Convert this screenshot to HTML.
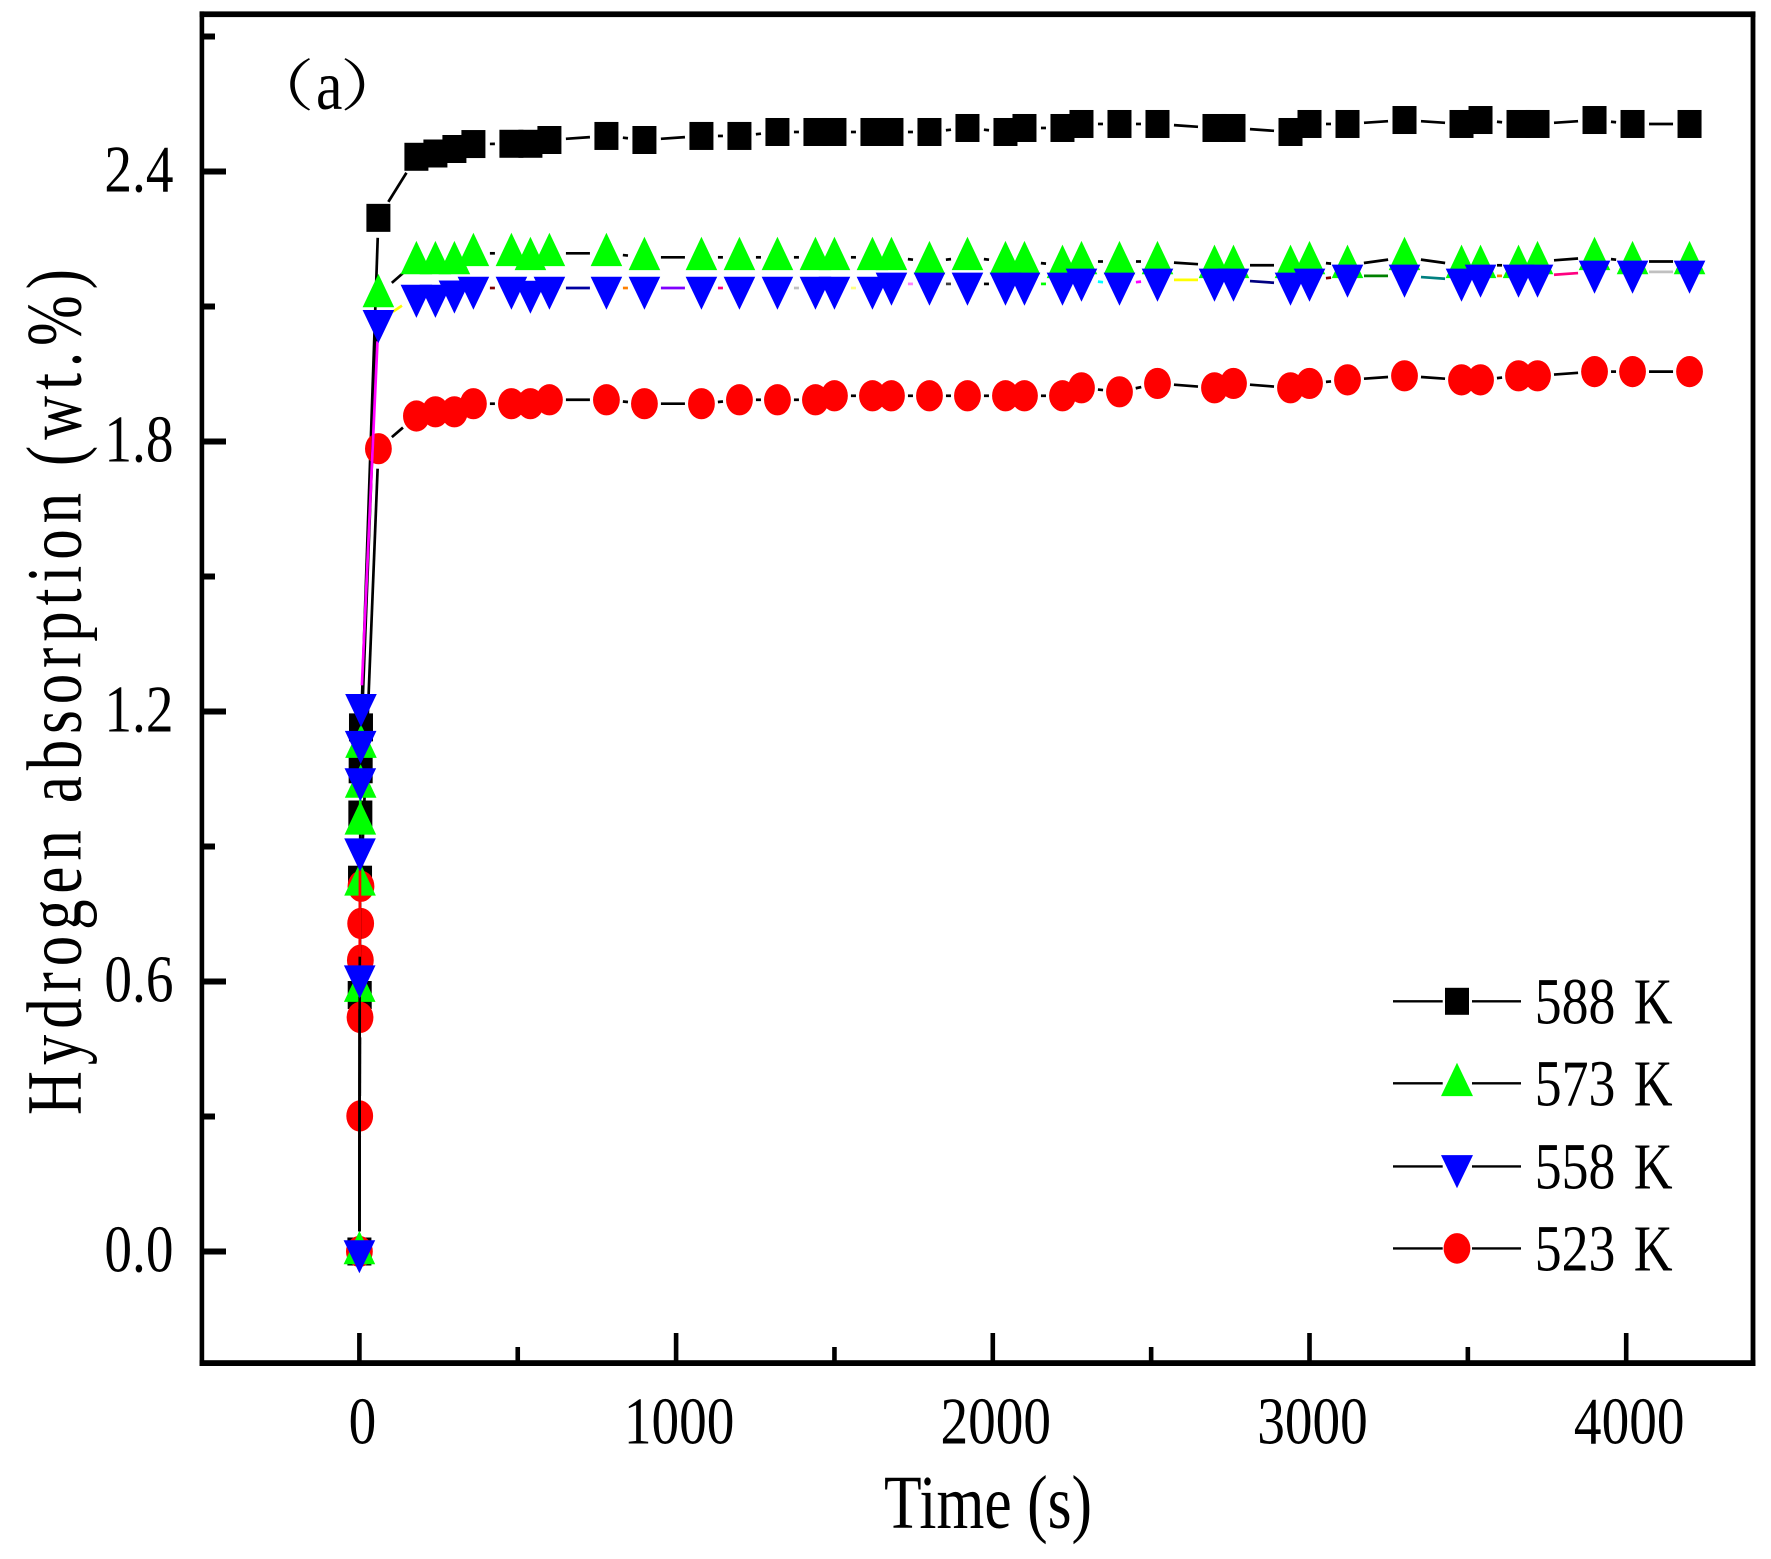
<!DOCTYPE html>
<html lang="en">
<head>
<meta charset="utf-8">
<title>Hydrogen absorption vs time</title>
<style>
html,body{margin:0;padding:0;background:#fff;}
svg{display:block;}
text{font-family:"Liberation Serif","Noto Serif CJK SC",serif;fill:#000;}
</style>
</head>
<body>
<svg id="chart" xmlns="http://www.w3.org/2000/svg" width="1771" height="1559" viewBox="0 0 1771 1559">
<rect x="0" y="0" width="1771" height="1559" fill="#fff"/>
<g id="series-layer"></g>
<g id="axis-layer"></g>
<rect x="199.6" y="11.4" width="4.6" height="1354.6" fill="#000"/>
<rect x="1750.6" y="11.4" width="4.8" height="1354.6" fill="#000"/>
<rect x="199.6" y="11.4" width="1555.8" height="5.7" fill="#000"/>
<rect x="199.6" y="1360.2" width="1555.8" height="5.8" fill="#000"/>

<text transform="translate(245 105.8) scale(1.24 1)" font-size="56">（</text>
<text transform="translate(316 109) scale(.85 1)" font-size="70">a</text>
<text transform="translate(340 105.8) scale(1.24 1)" font-size="56">）</text>

<text transform="translate(884 1528) scale(.81 1)" font-size="76">Time (s)</text>
<text transform="translate(80.4 1115) rotate(-90) scale(.78 1)" font-size="78" letter-spacing="7.6" xml:space="preserve">Hydrogen absorption (wt.%)</text>

<g>
  <g>
    <line x1="1393" x2="1442.7" y1="1001.3" y2="1001.3" stroke="#000" stroke-width="2.4"/>
    <line x1="1472" x2="1521" y1="1001.3" y2="1001.3" stroke="#000" stroke-width="2.4"/>
    <rect x="1445" y="987.8" width="24" height="27" fill="#000"/>
    <text transform="translate(1534.7 1023.5) scale(.815 1)" font-size="66" word-spacing="6">588 K</text>
  </g>
  <g>
    <line x1="1393" x2="1442.7" y1="1083.3" y2="1083.3" stroke="#000" stroke-width="2.4"/>
    <line x1="1472" x2="1521" y1="1083.3" y2="1083.3" stroke="#000" stroke-width="2.4"/>
    <polygon points="1457,1062.7 1473,1096.1 1441,1096.1" fill="#00ff00"/>
    <text transform="translate(1534.7 1105.5) scale(.815 1)" font-size="66" word-spacing="6">573 K</text>
  </g>
  <g>
    <line x1="1393" x2="1442.7" y1="1166.4" y2="1166.4" stroke="#000" stroke-width="2.4"/>
    <line x1="1472" x2="1521" y1="1166.4" y2="1166.4" stroke="#000" stroke-width="2.4"/>
    <polygon points="1441,1155.1 1473,1155.1 1457,1188.2" fill="#0000ff"/>
    <text transform="translate(1534.7 1188.6) scale(.815 1)" font-size="66" word-spacing="6">558 K</text>
  </g>
  <g>
    <line x1="1393" x2="1442.7" y1="1248.4" y2="1248.4" stroke="#000" stroke-width="2.4"/>
    <line x1="1472" x2="1521" y1="1248.4" y2="1248.4" stroke="#000" stroke-width="2.4"/>
    <ellipse cx="1457" cy="1248.4" rx="13.4" ry="15.3" fill="#ff0000"/>
    <text transform="translate(1534.7 1270.6) scale(.815 1)" font-size="66" word-spacing="6">523 K</text>
  </g>
</g>
</svg>
<script>
var times = [0,1,2,3,4,5,60,180,240,300,360,480,540,600,780,900,1080,1200,1320,1440,1500,1620,1680,1800,1920,2040,2100,2220,2280,2400,2520,2700,2760,2940,3000,3120,3300,3480,3540,3660,3720,3900,4020,4200];
var values588 = [0,0.57,0.8262,0.9711,1.0716,1.1647,2.297,2.4327,2.44,2.45,2.461,2.4616,2.4616,2.47,2.479,2.47,2.479,2.479,2.4878,2.4878,2.4878,2.4878,2.4878,2.4878,2.4967,2.4878,2.4967,2.4967,2.5056,2.5056,2.5056,2.4967,2.4967,2.4878,2.5056,2.5056,2.5144,2.5056,2.5144,2.5056,2.5056,2.5144,2.5056,2.5056];
var values573 = [0,0.5831,0.8193,0.9549,1.0369,1.1255,2.1267,2.2,2.2,2.2,2.2182,2.2182,2.2093,2.2182,2.2182,2.2093,2.2093,2.2093,2.2093,2.2093,2.2093,2.2093,2.2093,2.2,2.2093,2.2,2.2,2.1916,2.2,2.2,2.2,2.1916,2.1916,2.1916,2.2,2.1916,2.2093,2.1916,2.1916,2.1916,2.2,2.2093,2.2,2.2];
var values558 = [0,0.6107,0.8929,1.0487,1.1317,1.2138,2.067,2.1233,2.1233,2.1327,2.1411,2.1411,2.1322,2.1411,2.1411,2.1411,2.1411,2.1411,2.1411,2.1411,2.1411,2.1411,2.1502,2.1502,2.1502,2.1502,2.1502,2.1502,2.1591,2.1502,2.1591,2.1591,2.1591,2.1502,2.1591,2.168,2.168,2.1591,2.168,2.168,2.168,2.1769,2.1769,2.1769];
var values523 = [0,0.3011,0.5202,0.6473,0.729,0.8116,1.784,1.8567,1.866,1.866,1.884,1.884,1.884,1.8927,1.8927,1.884,1.884,1.8927,1.8927,1.8927,1.9016,1.9016,1.9016,1.9016,1.9016,1.9016,1.9016,1.9016,1.9193,1.9104,1.929,1.9193,1.929,1.9193,1.929,1.937,1.946,1.937,1.937,1.946,1.946,1.9553,1.9553,1.9553];
var xMajorTicks = [0,1000,2000,3000,4000];
var xMinorTicks = [500,1500,2500,3500];
var yMajorTicks = [0,0.6,1.2,1.8,2.4];
var yMinorTicks = [0.3,0.9,1.5,2.1,2.7];
var xTickLabels = ['0','1000','2000','3000','4000'];
var yTickLabels = ['0.0','0.6','1.2','1.8','2.4'];

var SVGNS = 'http://www.w3.org/2000/svg';
var seriesLayer = document.getElementById('series-layer');
var axisLayer = document.getElementById('axis-layer');
function xScale(t){ return 359.4 + t * 0.3167; }
function yScale(v){ return 1251.5 - v * 450; }
function make(tag, attrs, parent){
  var el = document.createElementNS(SVGNS, tag);
  for (var k in attrs) el.setAttribute(k, attrs[k]);
  parent.appendChild(el);
  return el;
}
var cyclePalette = ['#000000','#ff0000','#00ff00','#0000ff','#00ffff','#ff00ff','#ffff00','#808000','#000080','#8000ff','#800000','#008000','#008080','#0000a0','#ff8000','#8000ff','#ff0080','#ffffff','#c0c0c0','#808080','#ffff80','#80ffff','#ff80ff','#404040'];

function drawSeries(key, values, shape, fill, cycling){
  var g = make('g', {}, seriesLayer);
  
  
  for (var i = 0; i < times.length - 1; i++){
    var x1 = xScale(times[i]), y1 = yScale(values[i]);
    var x2 = xScale(times[i+1]), y2 = yScale(values[i+1]);
    var dx = x2 - x1, dy = y2 - y1;
    var frac = 1 / Math.sqrt(Math.pow(dx / 16.5, 2) + Math.pow(dy / 20, 2));
    if (frac >= 0.5) continue;
    var seg = make('line', {
      x1: x1 + dx * frac, y1: y1 + dy * frac,
      x2: x2 - dx * frac, y2: y2 - dy * frac,
      stroke: cycling ? cyclePalette[i % cyclePalette.length] : '#000',
      'stroke-width': 2.7
    }, g);
    
    
  }
  for (var j = 0; j < times.length; j++){
    var cx = xScale(times[j]), cy = yScale(values[j]), m;
    if (shape === 'square'){
      m = make('rect', {x: cx - 12, y: cy - 14, width: 24, height: 28, fill: fill}, g);
    } else if (shape === 'up'){
      m = make('polygon', {points: cx + ',' + (cy - 20.6) + ' ' + (cx + 15.8) + ',' + (cy + 12.8) + ' ' + (cx - 15.8) + ',' + (cy + 12.8), fill: fill}, g);
    } else if (shape === 'down'){
      m = make('polygon', {points: (cx - 15.8) + ',' + (cy - 11.3) + ' ' + (cx + 15.8) + ',' + (cy - 11.3) + ' ' + cx + ',' + (cy + 21.8), fill: fill}, g);
    } else {
      m = make('ellipse', {cx: cx, cy: cy, rx: 13.4, ry: 15.6, fill: fill}, g);
    }
    
    
  }
}
drawSeries('588k', values588, 'square', '#000000', false);
drawSeries('523k', values523, 'circle', '#ff0000', false);
drawSeries('573k', values573, 'up', '#00ff00', false);
drawSeries('558k', values558, 'down', '#0000ff', true);

xMajorTicks.forEach(function(t, i){
  var r = make('rect', {x: xScale(t) - 2.3, y: 1333, width: 4.6, height: 28, fill: '#000'}, axisLayer);
  
  
  var lbl = make('text', {transform: 'translate(' + (xScale(t) + 3) + ' 1443.5) scale(.825 1)', 'font-size': 67, 'text-anchor': 'middle'}, axisLayer);
  lbl.textContent = xTickLabels[i];
  
  
});
xMinorTicks.forEach(function(t){
  var r = make('rect', {x: xScale(t) - 2.3, y: 1347, width: 4.6, height: 14, fill: '#000'}, axisLayer);
  
  
});
yMajorTicks.forEach(function(v, i){
  var r = make('rect', {x: 204, y: yScale(v) - 3, width: 22, height: 6, fill: '#000'}, axisLayer);
  
  
  var lbl = make('text', {transform: 'translate(173.5 ' + (yScale(v) + 20) + ') scale(.825 1)', 'font-size': 67, 'text-anchor': 'end'}, axisLayer);
  lbl.textContent = yTickLabels[i];
  
  
});
yMinorTicks.forEach(function(v){
  var r = make('rect', {x: 204, y: yScale(v) - 3, width: 11, height: 6, fill: '#000'}, axisLayer);
  
  
});
</script>
</body>
</html>
